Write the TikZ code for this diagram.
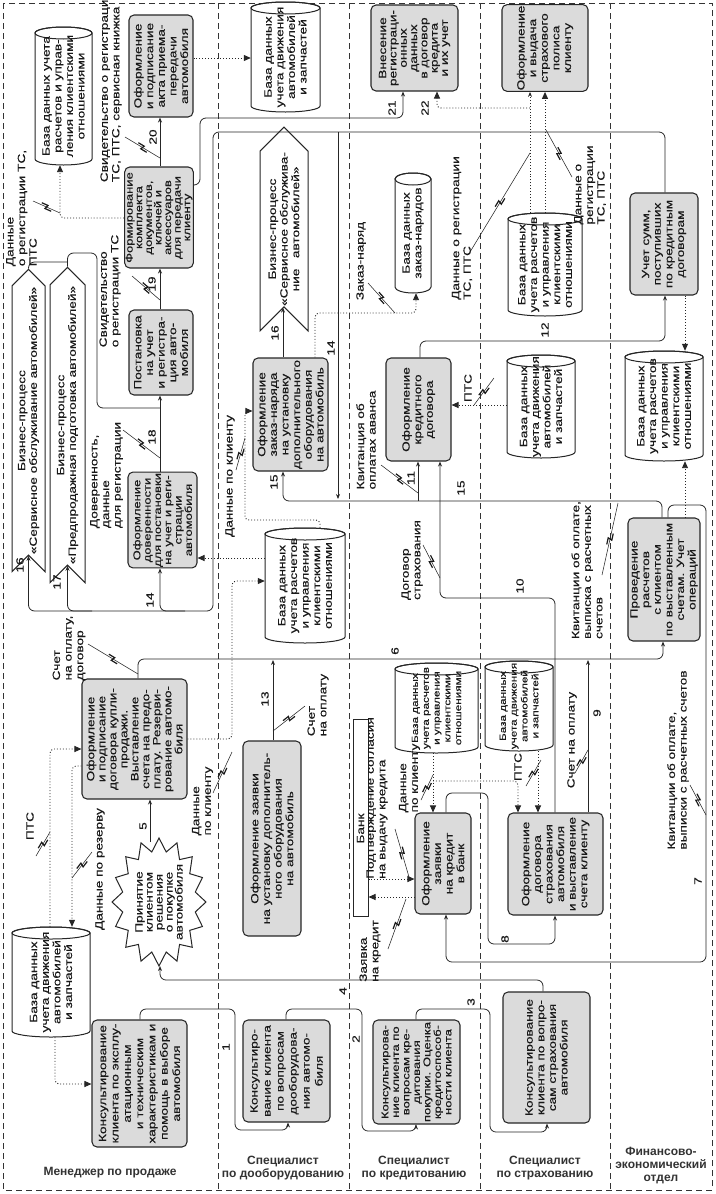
\documentclass[tikz,border=0pt]{standalone}
\usepackage{fontspec}
\setmainfont{Liberation Sans}[FakeStretch=1.3, FakeBold=0.25]
\newfontfamily\lanefont{Liberation Sans}
\usetikzlibrary{shapes.symbols,arrows.meta}
\tikzset{
  box/.style={rotate=90, draw=black!85, line width=1.05pt, fill=black!14, rounded corners=5pt, align=center, inner sep=1pt},
  dbt/.style={rotate=90, align=center, inner sep=0pt},
  dbl/.style={draw=black!85, line width=1pt},
  chev/.style={rotate=90, shape=signal, signal to=east, signal from=west, draw=black!85, line width=1pt, fill=white, align=center, inner sep=1pt},
  ln/.style={draw=black!85, line width=0.8pt, rounded corners=6pt},
  arr/.style={ln, -{Stealth[length=5pt,width=4pt]}},
  dt/.style={draw=black!85, line width=0.95pt, dotted, rounded corners=4pt},
  darr/.style={dt, -{Triangle[length=7pt,width=6pt]}},
  lbl/.style={rotate=90, inner sep=0pt, align=left},
  num/.style={rotate=90, inner sep=0pt},
  lane/.style={font=\lanefont\bfseries\fontsize{12}{13}\selectfont, text=black!80, align=center, inner sep=0pt},
  lead/.style={draw=black!85, line width=0.55pt},
  divl/.style={draw=black!80, line width=0.8pt, dash pattern=on 6pt off 4pt}
}
\newcommand\dbc[7][]{%
  \path[dbl, fill=white] ({#3-#5/2},{#4-#6/2+6}) -- ({#3-#5/2},{#4+#6/2-6})
     arc[start angle=180, end angle=0, x radius={#5/2}, y radius=6]
     -- ({#3+#5/2},{#4-#6/2+6})
     arc[start angle=0, end angle=-180, x radius={#5/2}, y radius=6] -- cycle;
  \draw[dbl] ({#3},{#4-#6/2+6}) ellipse[x radius={#5/2}, y radius=6];
  \node[dbt, minimum width=#6, minimum height=#5, #1] (#2) at (#3,#4) {#7};}
\newcommand\flash[4]{%
  \draw[lead] (#1,#2) -- (#3,#4);
  \pgfmathsetmacro\fmx{(#1+#3)/2}%
  \pgfmathsetmacro\fmy{(#2+#4)/2}%
  \pgfmathsetmacro\fang{atan2(-(#4-#2),(#3-#1))}%
  \begin{scope}[shift={(\fmx,\fmy)}, rotate=\fang]
    \draw[line width=1.2pt, draw=black!90] (-6,-2) -- (0.8,-2) -- (-0.8,2) -- (6,2);
  \end{scope}}
\begin{document}
\begin{tikzpicture}[x=1pt,y=-1pt, font=\fontsize{10.5}{11.6}\selectfont, text=black!90]
\useasboundingbox (0,0) rectangle (715,1194);
% frame and lanes
\draw[divl] (3,3) rectangle (712,1190);
\foreach \xx in {218,349,480,610} \draw[divl] (\xx,3) -- (\xx,1190);
\node[lane] at (110,1173) {Менеджер по продаже};
\node[lane] at (283,1168) {Специалист\\по дооборудованию};
\node[lane] at (414,1168) {Специалист\\по кредитованию};
\node[lane] at (545,1168) {Специалист\\по страхованию};
\node[lane] at (661,1166) {Финансово-\\экономический\\отдел};
% boxes
\node[box, font=\fontsize{10.5}{12.3}\selectfont, minimum width=127, minimum height=95] (B1) at (139.5,1083.5) {Консультирование\\клиента по эксплу-\\атационным\\и техническим\\характеристикам и\\помощь в выборе\\автомобиля};
\node[box, font=\fontsize{10.5}{11}\selectfont, minimum width=120, minimum height=105] (B2) at (134.5,739) {Оформление\\и подписание\\договора купли-\\продажи.\\Выставление\\счета на предо-\\плату. Резерви-\\рование автомо-\\биля};
\node[box, font=\fontsize{10}{10.3}\selectfont, minimum width=90, minimum height=69] (B3) at (162.5,520) {Оформление\\доверенности\\для постановки\\на учет и реги-\\страции\\автомобиля};
\node[box, minimum width=85, minimum height=64] (B4) at (161,352.5) {Постановка\\на учет\\и регистра-\\ция авто-\\мобиля};
\node[box, font=\fontsize{10}{9.6}\selectfont, minimum width=101, minimum height=68] (B5) at (159,217.5) {Формирование\\комплекта\\документов,\\ключей и\\аксессуаров\\для передачи\\клиенту};
\node[box, minimum width=102, minimum height=64] (B6) at (161,66) {Оформление\\и подписание\\акта приема-\\передачи\\автомобиля};
\node[box, font=\fontsize{10.5}{13}\selectfont, minimum width=102, minimum height=87] (B7) at (286.5,1071) {Консультиро-\\вание клиента\\по вопросам\\дооборудова-\\ния автомо-\\биля};
\node[box, minimum width=195, minimum height=58] (B8) at (272,838.5) {Оформление заявки\\на установку дополнитель-\\ного оборудования\\на автомобиль};
\node[box, minimum width=113, minimum height=75] (B9) at (290.5,414.5) {Оформление\\заказ-наряда\\на установку\\дополнительного\\оборудования\\на автомобиль};
\node[box, font=\fontsize{10}{10.5}\selectfont, minimum width=104, minimum height=87] (B10) at (416.5,1072) {Консультирова-\\ние клиента по\\вопросам кре-\\дитования\\покупки. Оценка\\кредитоспособ-\\ности клиента};
\node[box, minimum width=101, minimum height=56] (B11) at (443,863.5) {Оформление\\заявки\\на кредит\\в банк};
\node[box, minimum width=103, minimum height=65] (B12) at (418.5,409.5) {Оформление\\кредитного\\договора};
\node[box, font=\fontsize{10.5}{10.3}\selectfont, minimum width=86, minimum height=87] (B13) at (414.5,48) {Внесение\\регистраци-\\онных\\данных\\в договор\\кредита\\и их учет};
\node[box, minimum width=131, minimum height=87] (B14) at (546.5,1057.5) {Консультирование\\клиента по вопро-\\сам страхования\\автомобиля};
\node[box, minimum width=102, minimum height=95] (B15) at (555.5,864) {Оформление\\договора\\страхования\\автомобиля\\и выставление\\счета клиенту};
\node[box, minimum width=86, minimum height=86] (B16) at (545,48) {Оформление\\и выдача\\страхового\\полиса\\клиенту};
\node[box, minimum width=123, minimum height=72] (B17) at (664,579.5) {Проведение\\расчетов\\с клиентом\\по выставленным\\счетам. Учет\\операций};
\node[box, minimum width=102, minimum height=68] (B18) at (664,244) {Учет сумм,\\поступивших\\по кредитным\\договорам};
% databases
\dbc{DB1}{63.5}{96}{57}{138}{База данных учета\\расчетов и управ-\\ления клиентскими\\отношениями}
\dbc{DB2}{51}{982}{78}{110}{База данных\\учета движения\\автомобилей\\и запчастей}
\dbc{DBt}{285.5}{57}{69}{110}{База данных\\учета движения\\автомобилей\\и запчастей}
\dbc{DB4}{305}{585.5}{80}{115}{База данных\\учета расчетов\\и управления\\клиентскими\\отношениями}
\dbc[font=\fontsize{9}{10.8}\selectfont]{DB5}{436.5}{708}{83}{90}{База данных\\учета расчетов\\и управления\\клиентскими\\отношениями}
\dbc{DB6}{413}{233}{36}{120}{База данных\\заказ-нарядов}
\dbc[font=\fontsize{9}{10.8}\selectfont]{DB7}{519}{706}{68}{90}{База данных\\учета движения\\автомобилей\\и запчастей}
\dbc{DB8}{541}{406.5}{68}{103}{База данных\\учета движения\\автомобилей\\и запчастей}
\dbc{DB3}{545}{264.5}{74}{103}{База данных\\учета расчетов\\и управления\\клиентскими\\отношениями}
\dbc{DB9}{664}{406}{78}{110}{База данных\\учета расчетов\\и управления\\клиентскими\\отношениями}
% chevrons
\node[chev, minimum width=295, minimum height=33] (CH1) at (28.5,420.5) {Бизнес-процесс\\«Сервисное обслуживание автомобилей»};
\node[chev, minimum width=300, minimum height=35] (CH2) at (67.5,425) {Бизнес-процесс\\«Предпродажная подготовка автомобилей»};
\node[chev, minimum width=178, minimum height=48] (CH3) at (284,229) {Бизнес-процесс\\«Сервисное обслужива-\\ние\quad автомобилей»};
% star
\draw[line width=1pt, draw=black!85, fill=white] plot[samples=32, domain=0:31, variable=\t] ({159+(mod(\t,2)<0.5 ? 47 : 37)*cos(\t*11.25)}, {902+(mod(\t,2)<0.5 ? 64 : 51)*sin(\t*11.25)}) -- cycle;
\node[rotate=90, align=center, font=\fontsize{10.5}{10}\selectfont, minimum width=128, minimum height=92, inner sep=0pt] (star) at (159,902) {Принятие\\клиентом\\решения\\о покупке\\автомобиля};
% bank
\node[rotate=90, draw=black!85, line width=1pt, fill=white, minimum width=197, minimum height=15, inner sep=0pt] (bank) at (360.5,817.5) {Банк\hspace*{22pt}};
% solid flows
\draw[arr] (140,0 |- B1.east) -- (140,1009) -- (235,1009) -- (235,1130) -- (288,1130) -- (288,0 |- B7.west);
\draw[arr] (286,0 |- B7.east) -- (286,1009) -- (362,1009) -- (362,1131) -- (416,1131) -- (416,0 |- B10.west);
\draw[arr] (416,0 |- B10.east) -- (416,1009) -- (490,1009) -- (490,1132) -- (547,1132) -- (547,0 |- B14.west);
\draw[arr] (543,0 |- B14.east) -- (543,980) -- (160,980) -- (160,966);
\draw[arr] (150,842) -- (150,0 |- B2.west);
\draw[arr] (138,0 |- B2.east) -- (138,659) -- (663,659) -- (663,0 |- B17.west);
\draw[arr] (588,0 |- B15.east) -- (588,660);
\draw[arr] (273,0 |- B8.east) -- (273,660);
\draw[arr] (446,0 |- B11.east) -- (446,793) -- (488,793) -- (488,944) -- (555,944) -- (555,0 |- B15.west);
\draw[arr] (555,0 |- B15.east) -- (555,598) -- (440,598) -- (440,0 |- B12.west);
\draw[arr] (662,0 |- B17.east) -- (662,501) -- (283,501) -- (283,0 |- B9.west);
\draw[arr] (418,501) -- (418,0 |- B12.west);
\draw[arr] (668,0 |- B17.east) -- (668,505) -- (706,505) -- (706,962) -- (446,962) -- (446,0 |- B11.west);
\draw[arr] (420,0 |- B12.east) -- (420,341) -- (665,341) -- (665,0 |- B18.west);
\draw[arr] (665,0 |- B18.east) -- (665,132) -- (213,132) -- (213,611) -- (28.5,611) -- (28.5,0 |- CH1.west);
\draw[arr] (92,611) -- (67.5,611) -- (67.5,0 |- CH2.west);
\draw[arr] (185,611) -- (160,611) -- (160,0 |- B3.west);
\draw[arr] (338,132) -- (338,499);
\draw[arr] (283,0 |- B9.east) -- (283,0 |- CH3.west);
\draw[ln] (28.5,0 |- CH1.east) -- (28.5,262) -- (67.5,262);
\draw[ln] (67.5,0 |- CH2.east) -- (67.5,253) -- (97,253) -- (97,408) -- (160,408);
\draw[arr] (160,0 |- B3.east) -- (160,0 |- B4.west);
\draw[arr] (160,0 |- B4.east) -- (160,0 |- B5.west);
\draw[arr] (160,0 |- B5.east) -- (160,0 |- B6.west);
\draw[arr] (B5.south |- 0,185) -- (200,185) -- (200,118) -- (403,118) -- (403,0 |- B13.west);
% data flows (dotted)
\draw[darr] (B5.north |- 0,218) -- (60,218) -- (60,0 |- DB1.west);
\draw[darr] (B6.south |- 0,58) -- (DBt.north |- 0,58);
\draw[darr] (50,0 |- DB2.east) -- (50,749) -- (B2.north |- 0,749);
\draw[darr] (B2.north |- 0,766) -- (72,766) -- (72,0 |- DB2.east);
\draw[darr] (55,0 |- DB2.west) -- (55,1084) -- (B1.north |- 0,1084);
\draw[darr] (B2.south |- 0,739) -- (232,739) -- (232,581) -- (DB4.north |- 0,581);
\draw[darr] (DB4.north |- 0,558) -- (B3.south |- 0,558);
\draw[darr] (320,0 |- DB4.east) -- (320,520) -- (245,520) -- (245,411) -- (B9.north |- 0,411);
\draw[darr] (315,0 |- B9.east) -- (315,313) -- (416,313) -- (416,0 |- DB6.west);
\draw[darr] (545,0 |- DB3.east) -- (545,0 |- B16.west);
\draw[dt, -{Stealth[length=5pt,width=4pt]}] (530,0 |- DB3.east) -- (530,0 |- B16.west);
\draw[darr] (530,108) -- (437,108) -- (437,0 |- B13.west);
\draw[darr] (DB8.north |- 0,405) -- (B12.south |- 0,405);
\draw[darr] (433,0 |- DB5.west) -- (433,0 |- B11.east);
\draw[darr] (433,781) -- (518,781) -- (518,0 |- B15.east);
\draw[darr] (538,0 |- DB7.west) -- (538,0 |- B15.east);
\draw[darr] (bank.south |- 0,879) -- (B11.north |- 0,879);
\draw[darr] (B11.north |- 0,897) -- (bank.south |- 0,897);
\draw[darr] (685,0 |- B18.west) -- (685,0 |- DB9.east);
\draw[darr] (685,0 |- B17.east) -- (685,0 |- DB9.west);
% labels
\node[lbl] at (21.5,208) {Данные\\о регистрации ТС,\\ПТС};
\node[lbl] at (111,87) {Свидетельство о регистрации\\ТС, ПТС, сервисная книжка};
\node[lbl] at (110,291) {Свидетельство\\о регистрации ТС};
\node[lbl] at (106.5,475) {Доверенность,\\данные\\для регистрации};
\node[lbl] at (69,648) {Счет\\на оплату,\\договор};
\node[lbl] at (30,826) {ПТС};
\node[lbl] at (100,869) {Данные по резерву};
\node[lbl] at (202.5,801) {Данные\\по клиенту};
\node[lbl] at (230,476) {Данные по клиенту};
\node[lbl] at (318,705) {Счет\\на оплату};
\node[lbl] at (361,261) {Заказ-наряд};
\node[lbl] at (366,440) {Квитанция об\\оплатах аванса};
\node[lbl] at (412,560) {Договор\\страхования};
\node[lbl] at (468,388) {ПТС};
\node[lbl] at (462,228) {Данные о регистрации\\ТС, ПТС};
\node[lbl] at (590,185) {Данные о\\регистрации\\ТС, ПТС};
\node[lbl] at (409.5,778) {Данные\\по клиенту};
\node[lbl] at (518,767) {ПТС};
\node[lbl] at (377,798) {Подтверждение согласия\\на выдачу кредита};
\node[lbl] at (370,951) {Заявка\\на кредит};
\node[lbl] at (572,740) {Счет на оплату};
\node[lbl] at (587,570) {Квитанции об оплате,\\выписка с расчетных\\счетов};
\node[lbl] at (678,760) {Квитанции об оплате,\\выписки с расчетных счетов};
% flashes
\flash{132}{276}{160}{300}
\flash{125}{137}{160}{158}
\flash{33}{201}{60}{213}
\flash{123}{430}{160}{458}
\flash{88}{644}{138}{674}
\flash{36}{856}{50}{832}
\flash{72}{878}{92}{852}
\flash{213}{793}{232}{752}
\flash{236}{470}{245}{438}
\flash{273}{731}{305}{706}
\flash{368}{283}{395}{313}
\flash{381}{465}{418}{493}
\flash{423}{545}{440}{578}
\flash{474}{405}{494}{378}
\flash{470}{252}{530}{153}
\flash{572}{177}{546}{130}
\flash{421}{800}{433}{775}
\flash{526}{786}{541}{760}
\flash{395}{829}{409}{877}
\flash{388}{949}{406}{899}
\flash{575}{773}{588}{750}
\flash{602}{575}{618}{503}
\flash{690}{785}{706}{815}
% numbers
\node[num] at (226,1047) {1};
\node[num] at (356,1039) {2};
\node[num] at (471,1002) {3};
\node[num] at (343,991) {4};
\node[num] at (143,826) {5};
\node[num] at (395,651) {6};
\node[num] at (698,881) {7};
\node[num] at (505,939) {8};
\node[num] at (597,713) {9};
\node[num] at (520,586) {10};
\node[num] at (411,478) {11};
\node[num] at (545,330) {12};
\node[num] at (265,699) {13};
\node[num] at (150,600) {14};
\node[num] at (331,348) {14};
\node[num] at (274,482) {15};
\node[num] at (461,488) {15};
\node[num] at (20,565) {16};
\node[num] at (275,333) {16};
\node[num] at (57,582) {17};
\node[num] at (152,437) {18};
\node[num] at (152,284) {19};
\node[num] at (153,137) {20};
\node[num] at (392,108) {21};
\node[num] at (425,108) {22};
\end{tikzpicture}
\end{document}
